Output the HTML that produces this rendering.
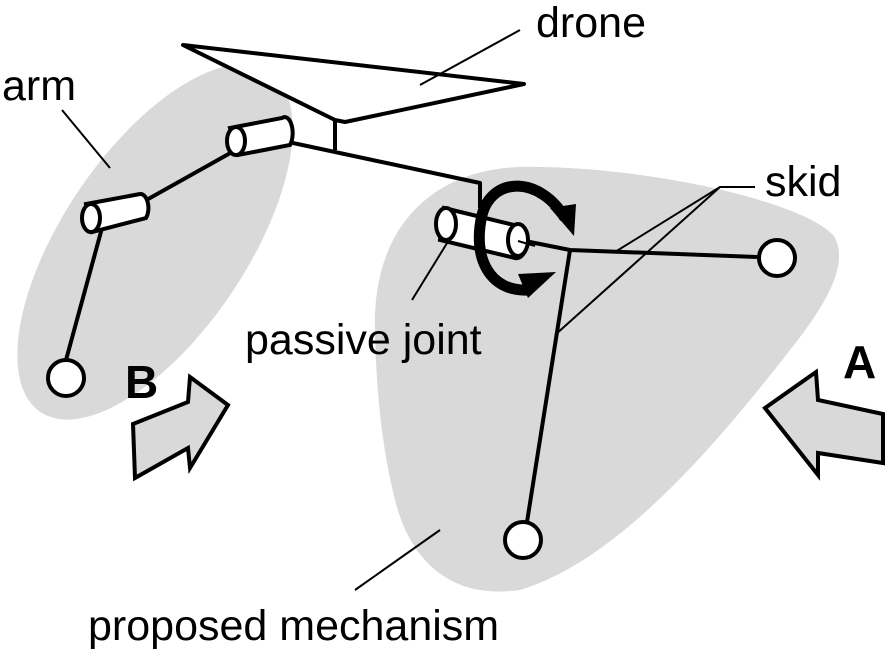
<!DOCTYPE html><html><head><style>body{margin:0;background:#fff}svg{display:block}text{font-family:"Liberation Sans",sans-serif}</style></head><body>
<svg width="886" height="653" viewBox="0 0 886 653" xmlns="http://www.w3.org/2000/svg">
<ellipse cx="155" cy="242" rx="205" ry="92" transform="rotate(-56 155 242)" fill="#d9d9d9"/>
<path d="M375,330 C372,230 430,170 520,167 C640,165 800,200 833,235 C850,260 830,300 790,350 C720,440 620,560 520,590 C450,600 410,560 395,500 C380,440 376,380 375,330Z" fill="#d9d9d9"/>
<g stroke="#000" stroke-width="4" fill="none" stroke-linejoin="round">
<polygon points="183,45 524,84 345,122 335,120" fill="#fff"/>
<path d="M335,120 V150"/>
<path d="M265,137 L480,183 L480,208"/>
<path d="M125,212 L250,142"/>
<path d="M102,228 L66,360"/>
<path d="M520,240 L570,250 L757,257 M570,250 L527,522"/>
</g>
<g stroke="#000" stroke-width="4" fill="#fff">
<path d="M230,128 L282,118 A8,16 0 0,1 290,145 L238,155Z"/>
<ellipse cx="236" cy="141" rx="9" ry="14"/>
<path d="M86,204 L140,194 A8,14 0 0,1 146,218 L92,232Z"/>
<ellipse cx="91" cy="218" rx="9" ry="14"/>
<path d="M444,208 L518,226 A10,16 0 0,1 515,258 L440,240Z"/>
<ellipse cx="446" cy="224" rx="10" ry="16"/>
<ellipse cx="518" cy="240" rx="10" ry="16"/>
<circle cx="66" cy="378" r="18"/>
<circle cx="777" cy="258" r="18"/>
<circle cx="523" cy="540" r="18"/>
</g>
<path d="M565,218 C540,176 492,176 482,215 C472,258 490,292 528,290" stroke="#000" stroke-width="11" fill="none"/>
<polygon points="550,208 576,204 574,236" fill="#000"/>
<polygon points="518,274 556,272 528,298" fill="#000"/>
<g stroke="#000" stroke-width="2" fill="none">
<path d="M520,30 L420,85 M62,110 L110,168 M755,187 L720,187 L615,252 M720,187 L555,335 M412,300 L452,235 M355,590 L440,530 M518,241 L535,246"/>
</g>
<g stroke="#000" stroke-width="4" fill="#d9d9d9" stroke-linejoin="miter">
<polygon points="133,424 188,402 190,377 228,405 190,468 188,448 135,478"/>
<polygon points="765,408 816,372 818,400 883,414 883,463 818,453 818,475"/>
</g>
<g font-size="43">
<text x="536" y="37">drone</text>
<text x="2" y="100">arm</text>
<text x="765" y="196">skid</text>
<text x="245" y="354">passive joint</text>
<text x="88" y="640">proposed mechanism</text>
</g>
<text x="125" y="398" font-size="46" font-weight="bold">B</text>
<text x="843" y="378" font-size="46" font-weight="bold">A</text>
</svg></body></html>
